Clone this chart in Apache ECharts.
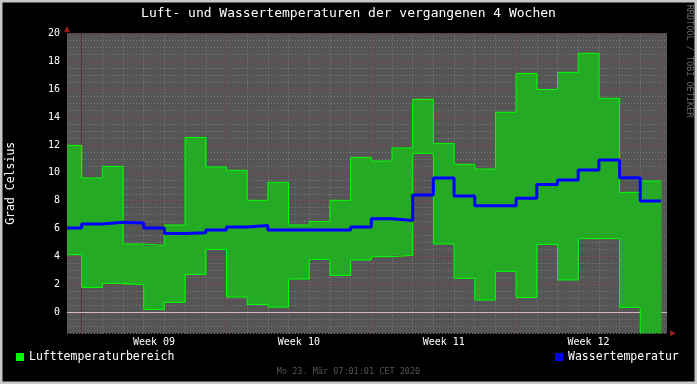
<!DOCTYPE html>
<html>
<head>
<meta charset="utf-8">
<script src="https://cdn.jsdelivr.net/npm/echarts@6/dist/echarts.min.js"></script>
<style>
html,body{margin:0;padding:0;background:#000;}
#c{width:697px;height:384px;}
</style>
</head>
<body>
<div id="c"></div>
<script>
// ---- data (days counted from Mon 24 Feb 2020 00:00) ----
const dayStart = [-1,0,1,2,3,4,5,6,7,8,9,10,11,12,13,14,15,16,17,18,19,20,21,22,23,24,25,26,27];
const airMin = [4.13,1.79,2.08,1.98,0.21,0.72,2.72,4.51,1.10,0.57,0.38,2.39,3.80,2.65,3.75,3.99,4.09,11.40,4.90,2.44,0.88,2.94,1.07,4.87,2.32,5.28,5.28,0.36,-2.0];
const airMax = [11.97,9.63,10.46,4.90,4.80,6.26,12.54,10.42,10.18,8.03,9.32,6.26,6.52,8.03,11.11,10.85,11.78,15.27,12.11,10.61,10.27,14.34,17.13,15.98,17.20,18.57,15.34,8.60,9.41];
const water = [6.04,6.33,6.45,6.40,6.04,5.66,5.71,5.90,6.11,6.23,5.90,5.90,5.90,5.90,6.11,6.71,6.59,8.41,9.63,8.34,7.64,7.64,8.17,9.17,9.48,10.20,10.92,9.65,7.98];
const weekLabels = ['Week 09','Week 10','Week 11','Week 12'];
const weekCenters = [3.5,10.5,17.5,24.5];
const weekBounds = [0,7,14,21,28];
const dayTicks = [0,1,2,3,4,5,6,7,8,9,10,11,12,13,14,15,16,17,18,19,20,21,22,23,24,25,26,27,28];
const yLabelVals = [0,2,4,6,8,10,12,14,16,18,20];
const yMinorVals = [-1.5,-1,-0.5,0,0.5,1,1.5,2,2.5,3,3.5,4,4.5,5,5.5,6,6.5,7,7.5,8,8.5,9,9.5,10,10.5,11,11.5,12,12.5,13,13.5,14,14.5,15,15.5,16,16.5,17,17.5,18,18.5,19,19.5,20];
const xMin = -(16 + 58/60 + 59/3600)/24;   // Sun 23 Feb 07:01:01
const xMax = 28 + (7 + 1/60 + 1/3600)/24;  // Mon 23 Mar 07:01:01
const yMin = -1.5, yMax = 20;

function stepData(vals){
  const out = dayStart.map((d,i)=>[Math.max(d,xMin), vals[i]]);
  out.push([dayStart[dayStart.length-1]+1, vals[vals.length-1]]);
  return out;
}
const bandData = dayStart.map((d,i)=>[Math.max(d,xMin), d+1, airMin[i], airMax[i]]);

const GRAY = '#7c7c7c', RED = '#9a4444';
const gridLines = [];
dayTicks.forEach(d=>{ if(weekBounds.indexOf(d)<0) gridLines.push({xAxis:d, lineStyle:{color:GRAY}}); });
yMinorVals.forEach(v=>{ if(yLabelVals.indexOf(v)<0) gridLines.push({yAxis:v, lineStyle:{color:GRAY}}); });
weekBounds.forEach(d=>gridLines.push({xAxis:d, lineStyle:{color:RED}}));
yLabelVals.forEach(v=>{ if(v!==0) gridLines.push({yAxis:v, lineStyle:{color:RED}}); });

const FONT = 'DejaVu Sans Mono';
const chart = echarts.init(document.getElementById('c'), null, {renderer:'canvas'});
chart.setOption({
  backgroundColor:'#000000',
  animation:false,
  title:{
    text:'Luft- und Wassertemperaturen der vergangenen 4 Wochen',
    left:'center', top:7, padding:0,
    textStyle:{color:'#ffffff', fontFamily:FONT, fontSize:13, fontWeight:'normal'}
  },
  grid:{left:67, top:33.3, width:600, height:300, show:true, backgroundColor:'#555555', borderWidth:0,
        containLabel:false, outerBoundsMode:'none'},
  legend:[
    {data:[{name:'Lufttemperaturbereich', itemStyle:{color:'#00ff00'}}], left:16, top:351, padding:0, icon:'rect', itemWidth:8, itemHeight:8,
     textStyle:{color:'#ffffff', fontFamily:FONT, fontSize:11.5}, selectedMode:false},
    {data:['Wassertemperatur'], left:555, top:351, padding:0, icon:'rect', itemWidth:8, itemHeight:8,
     textStyle:{color:'#ffffff', fontFamily:FONT, fontSize:11.5}, selectedMode:false}
  ],
  xAxis:{type:'value', min:xMin, max:xMax, position:'bottom',
     axisLine:{show:true, lineStyle:{color:'#303030', width:1}},
     axisTick:{show:false},
     axisLabel:{show:true, customValues:weekCenters, margin:4, color:'#ffffff', fontFamily:FONT, fontSize:10,
       formatter:(v)=>{const i=weekCenters.indexOf(v); return i>=0?weekLabels[i]:'';}},
     splitLine:{show:false}},
  yAxis:{type:'value', min:yMin, max:yMax, position:'left',
     name:'Grad Celsius', nameLocation:'middle', nameGap:50, nameRotate:90,
     nameTextStyle:{color:'#ffffff', fontFamily:FONT, fontSize:11.5},
     axisLine:{show:true, lineStyle:{color:'#303030', width:1}},
     axisTick:{show:false},
     axisLabel:{show:true, customValues:yLabelVals, margin:7, color:'#ffffff', fontFamily:FONT, fontSize:10},
     splitLine:{show:false}},
  series:[
    {name:'grid', type:'line', data:[], z:1, silent:true,
     markLine:{z:1, silent:true, symbol:['none','none'], label:{show:false}, animation:false,
       lineStyle:{width:1, type:[1,2]}, data:gridLines}},
    {name:'zero', type:'line', data:[], z:1, silent:true,
     markLine:{z:1, silent:true, symbol:['none','none'], label:{show:false}, animation:false,
       lineStyle:{color:'#d6b8b8', width:1, type:'solid'}, data:[{yAxis:0}]}},
    {name:'Lufttemperaturbereich', type:'custom', z:2, silent:true,
     itemStyle:{color:'#24aa24', borderColor:'transparent', borderWidth:0},
     encode:{x:[0,1], y:[2,3]},
     data:bandData,
     renderItem:function(params, api){
       const p0 = api.coord([api.value(0), api.value(3)]);
       const p1 = api.coord([api.value(1), api.value(2)]);
       const cs = params.coordSys;
       const shape = echarts.graphic.clipRectByRect(
         {x:p0[0], y:p0[1], width:p1[0]-p0[0]+0.6, height:p1[1]-p0[1]},
         {x:cs.x, y:cs.y, width:cs.width, height:cs.height});
       return shape && {type:'rect', shape:shape, style:{fill:'#24aa24', stroke:'transparent', lineWidth:0}};
     }},
    {name:'Lufttemperatur min', type:'line', step:'end', data:stepData(airMin), showSymbol:false, symbol:'none', z:3,
     lineStyle:{color:'#00ff00', width:1}, itemStyle:{color:'#00ff00'}},
    {name:'Lufttemperatur max', type:'line', step:'end', data:stepData(airMax), showSymbol:false, symbol:'none', z:3,
     lineStyle:{color:'#00ff00', width:1}, itemStyle:{color:'#00ff00'}},
    {name:'Wassertemperatur', type:'line', step:'end', data:stepData(water), showSymbol:false, symbol:'none', z:4,
     lineStyle:{color:'#0000ff', width:3}, itemStyle:{color:'#0000ff'}}
  ],
  graphic:[
    {type:'polygon', shape:{points:[[67,26],[64,32],[70,32]]}, style:{fill:'#9a1a1a'}, z:10},
    {type:'polygon', shape:{points:[[676,333.3],[670,330.3],[670,336.3]]}, style:{fill:'#9a1a1a'}, z:10},
    {type:'text', x:348.5, y:372, style:{text:'Mo 23. Mär 07:01:01 CET 2020', fill:'#555555', font:'8.5px "DejaVu Sans Mono"', textAlign:'center', textVerticalAlign:'middle'}},
    {type:'text', x:689, y:61, rotation:-Math.PI/2, style:{text:'RRDTOOL / TOBI OETIKER', fill:'#6a6a6a', font:'8.5px "DejaVu Sans Mono"', textAlign:'center', textVerticalAlign:'middle'}},
    {type:'rect', shape:{x:1,y:1,width:695,height:382}, style:{fill:null, stroke:'#c8c8c8', lineWidth:3}, z:20, silent:true}
  ]
});
</script>
</body>
</html>
